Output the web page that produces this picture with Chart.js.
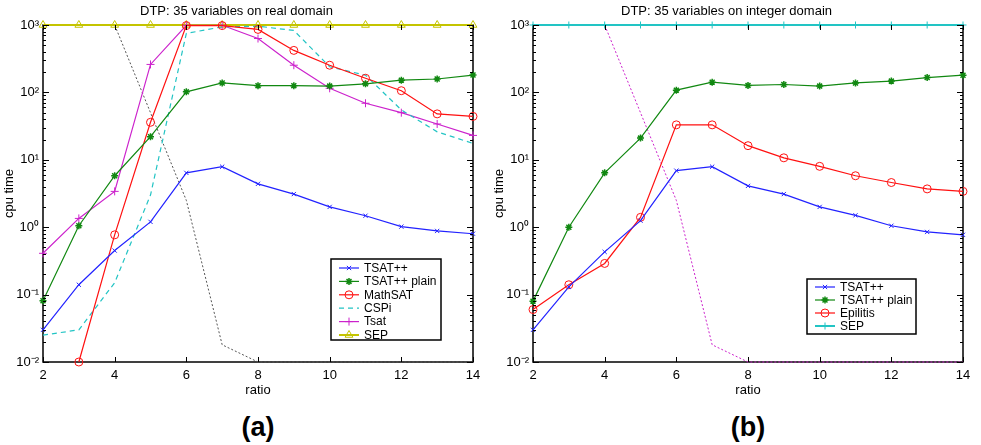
<!DOCTYPE html>
<html>
<head>
<meta charset="utf-8">
<script src="https://cdn.jsdelivr.net/npm/chart.js@4.4.1/dist/chart.umd.min.js"></script>
<style>
  body { margin: 0; background: #fff; font-family: "Liberation Sans", Arial, sans-serif; }
  #wrap { position: relative; width: 981px; height: 445px; }
  canvas { position: absolute; top: 0; }
  .tag { position: absolute; top: 412px; width: 430px; text-align: center; font: bold 27px "Liberation Sans", Arial, sans-serif; }
</style>
</head>
<body>
<div id="wrap">
  <canvas id="chartA" width="490" height="400" style="left:0"></canvas>
  <canvas id="chartB" width="491" height="400" style="left:490px"></canvas>
  <div class="tag" style="left:43px">(a)</div>
  <div class="tag" style="left:533px">(b)</div>
</div>
<script>
// x values and ticks
const ratios = [2, 3, 4, 5, 6, 7, 8, 9, 10, 11, 12, 13, 14];
const xTicks = [2, 4, 6, 8, 10, 12, 14];
const yTicks = [0.01, 0.1, 1, 10, 100, 1000];

// (a) real domain
const realTsatpp      = [0.03, 0.14, 0.45, 1.2, 6.4, 7.9, 4.4, 3.1, 2.0, 1.48, 1.02, 0.88, 0.8];
const realTsatppPlain = [0.081, 1.05, 5.8, 22, 102, 138, 126, 126, 124, 134, 152, 158, 181];
const realMathsat     = [null, 0.01, 0.77, 36, 980, 980, 860, 420, 253, 162, 106, 48, 44];
const realCspi        = [0.025, 0.03, 0.15, 3, 750, 940, 960, 830, 240, 180, 55, 26, 17.5];
const realTsat        = [0.41, 1.35, 3.4, 260, 990, 990, 630, 253, 115, 69, 50, 34, 23];
const realSep         = [1000, 1000, 1000, 1000, 1000, 1000, 1000, 1000, 1000, 1000, 1000, 1000, 1000];
const realOther       = [1000, 1000, 1000, null, 2.5, 0.018, 0.01, 0.01, 0.01, 0.01, 0.01, 0.01, 0.01];

// (b) integer domain
const intTsatpp      = [0.03, 0.13, 0.43, 1.25, 6.9, 7.9, 4.1, 3.1, 2.0, 1.5, 1.05, 0.85, 0.77];
const intTsatppPlain = [0.08, 1.0, 6.4, 21, 108, 142, 127, 131, 124, 138, 147, 166, 180];
const intEpilitis    = [0.06, 0.14, 0.29, 1.4, 33, 33, 16.2, 10.7, 8.0, 5.8, 4.6, 3.7, 3.4];
const intSep         = [1000, 1000, 1000, 1000, 1000, 1000, 1000, 1000, 1000, 1000, 1000, 1000, 1000];
const intOther       = [1000, 1000, 1000, null, 2.5, 0.018, 0.01, 0.01, 0.01, 0.01, 0.01, 0.01, 0.01];

const BLUE = '#2222ff', GREEN = '#118811', RED = '#ff1010', CYAN = '#22c4c4',
      MAGENTA = '#cc22cc', YELLOW = '#c4c400';
const FONT = '"Liberation Sans", Arial, sans-serif';

function pts(vals) {
  return vals.map((v, i) => ({ x: ratios[i], y: v }));
}

const sup = { '-': '\u207B', '0': '\u2070', '1': '\u00B9', '2': '\u00B2', '3': '\u00B3' };
function powLabel(v) {
  const e = String(Math.round(Math.log10(v)));
  return '10' + e.split('').map(c => sup[c]).join('');
}

// frame under the data, inward ticks on top
const frameTicks = {
  id: 'frameTicks',
  beforeDatasetsDraw(chart) {
    const { ctx, chartArea: a } = chart;
    ctx.save();
    ctx.strokeStyle = '#000';
    ctx.lineWidth = 1.5;
    ctx.strokeRect(a.left, a.top, a.right - a.left, a.bottom - a.top);
    ctx.restore();
  },
  afterDraw(chart) {
    const { ctx, chartArea: a, scales: { x, y } } = chart;
    ctx.save();
    ctx.strokeStyle = '#000';
    ctx.lineWidth = 1;
    ctx.beginPath();
    xTicks.forEach(v => {
      const px = Math.round(x.getPixelForValue(v)) + 0.5;
      ctx.moveTo(px, a.bottom); ctx.lineTo(px, a.bottom - 5);
      ctx.moveTo(px, a.top); ctx.lineTo(px, a.top + 5);
    });
    yTicks.forEach(v => {
      for (let m = 1; m <= 9; m++) {
        const val = v * m;
        if (val > 1000) break;
        const len = m === 1 ? 6 : 3;
        const py = Math.round(y.getPixelForValue(val)) + 0.5;
        ctx.moveTo(a.left, py); ctx.lineTo(a.left + len, py);
        ctx.moveTo(a.right, py); ctx.lineTo(a.right - len, py);
      }
    });
    ctx.stroke();
    ctx.restore();
  }
};

// legend box inside plot
const boxLegend = {
  id: 'boxLegend',
  afterDraw(chart, args, opts) {
    const ctx = chart.ctx;
    const sets = chart.data.datasets.filter(d => d.inLegend !== false);
    ctx.save();
    ctx.fillStyle = '#fff';
    ctx.fillRect(opts.left, opts.top, opts.width, opts.height);
    ctx.strokeStyle = '#000';
    ctx.lineWidth = 1.5;
    ctx.strokeRect(opts.left, opts.top, opts.width, opts.height);
    ctx.font = '12px ' + FONT;
    ctx.textBaseline = 'middle';
    sets.forEach((d, i) => {
      const yy = opts.top + opts.first + i * opts.step;
      ctx.strokeStyle = d.borderColor;
      ctx.lineWidth = d.borderWidth;
      ctx.setLineDash(d.borderDash || []);
      ctx.beginPath();
      ctx.moveTo(opts.left + 8, yy); ctx.lineTo(opts.left + 28, yy);
      ctx.stroke();
      ctx.setLineDash([]);
      if (d.pointRadius > 0 && Chart.helpers && Chart.helpers.drawPoint) {
        ctx.fillStyle = d.pointBackgroundColor || d.borderColor;
        ctx.lineWidth = d.pointBorderWidth || 1;
        Chart.helpers.drawPoint(ctx, { pointStyle: d.pointStyle, radius: d.pointRadius, rotation: 0, borderWidth: d.pointBorderWidth || 1 }, opts.left + 18, yy);
      }
      ctx.fillStyle = '#000';
      ctx.fillText(d.label, opts.left + 33, yy + 0.5);
    });
    ctx.restore();
  }
};

function line(label, vals, color, style, extra) {
  return Object.assign({
    label: label,
    data: pts(vals),
    borderColor: color,
    backgroundColor: color,
    borderWidth: 1.2,
    pointStyle: style,
    pointRadius: 3.5,
    pointBorderWidth: 1,
    pointBorderColor: color,
    pointBackgroundColor: color,
    spanGaps: true,
    clip: false,
    tension: 0
  }, extra || {});
}

function makeChart(id, title, datasets, legendBox, padRight) {
  new Chart(document.getElementById(id), {
    type: 'line',
    data: { datasets: datasets },
    options: {
      responsive: false,
      animation: false,
      layout: { padding: { left: 0, right: padRight, top: 0, bottom: 0 } },
      plugins: {
        legend: { display: false },
        tooltip: { enabled: false },
        title: {
          display: true, text: title, color: '#000',
          font: { family: FONT, size: 13, weight: 'normal' },
          padding: { top: 4, bottom: 5.4 }
        },
        boxLegend: legendBox
      },
      scales: {
        x: {
          type: 'linear', min: 2, max: 14,
          grid: { display: false, drawTicks: false }, border: { display: false },
          afterBuildTicks: s => { s.ticks = xTicks.map(v => ({ value: v })); },
          ticks: { color: '#000', padding: 6, font: { family: FONT, size: 13 } },
          title: { display: true, text: 'ratio', color: '#000', padding: { top: 2, bottom: 2 },
                   font: { family: FONT, size: 13 } },
          afterFit: s => { s.height = 38; }
        },
        y: {
          type: 'logarithmic', min: 0.01, max: 1000,
          grid: { display: false, drawTicks: false }, border: { display: false },
          afterBuildTicks: s => { s.ticks = yTicks.map(v => ({ value: v })); },
          ticks: { color: '#000', padding: 4, autoSkip: false, callback: v => powLabel(v),
                   font: { family: FONT, size: 13 } },
          title: { display: true, text: 'cpu time', color: '#000', padding: { top: 2, bottom: 2 },
                   font: { family: FONT, size: 13 } },
          afterFit: s => { s.width = 43; }
        }
      }
    },
    plugins: [frameTicks, boxLegend]
  });
}

// datasets listed in legend order; the unlabeled dotted curve goes last
makeChart('chartA', 'DTP: 35 variables on real domain', [
  line('TSAT++', realTsatpp, BLUE, 'crossRot', { pointRadius: 3 }),
  line('TSAT++ plain', realTsatppPlain, GREEN, 'star', { pointBorderWidth: 1.5 }),
  line('MathSAT', realMathsat, RED, 'circle', { pointRadius: 4, pointBackgroundColor: 'rgba(0,0,0,0)' }),
  line('CSPi', realCspi, CYAN, 'circle', { pointRadius: 0, borderDash: [5, 4] }),
  line('Tsat', realTsat, MAGENTA, 'cross', { pointRadius: 4 }),
  line('SEP', realSep, YELLOW, 'triangle', { borderWidth: 2, pointRadius: 4.5, pointBackgroundColor: 'rgba(0,0,0,0)' }),
  line('', realOther, '#555555', 'circle', { pointRadius: 0, borderWidth: 1, borderDash: [2, 2], inLegend: false })
], { left: 331, top: 259, width: 110, height: 81, first: 9, step: 13.4 }, 17);

makeChart('chartB', 'DTP: 35 variables on integer domain', [
  line('TSAT++', intTsatpp, BLUE, 'crossRot', { pointRadius: 3 }),
  line('TSAT++ plain', intTsatppPlain, GREEN, 'star', { pointBorderWidth: 1.5 }),
  line('Epilitis', intEpilitis, RED, 'circle', { pointRadius: 4, pointBackgroundColor: 'rgba(0,0,0,0)' }),
  line('SEP', intSep, CYAN, 'cross', { borderWidth: 2, pointRadius: 3.5 }),
  line('', intOther, MAGENTA, 'circle', { pointRadius: 0, borderWidth: 1, borderDash: [2, 2], inLegend: false })
], { left: 317, top: 279, width: 109, height: 55, first: 8, step: 13 }, 18);
</script>
</body>
</html>
